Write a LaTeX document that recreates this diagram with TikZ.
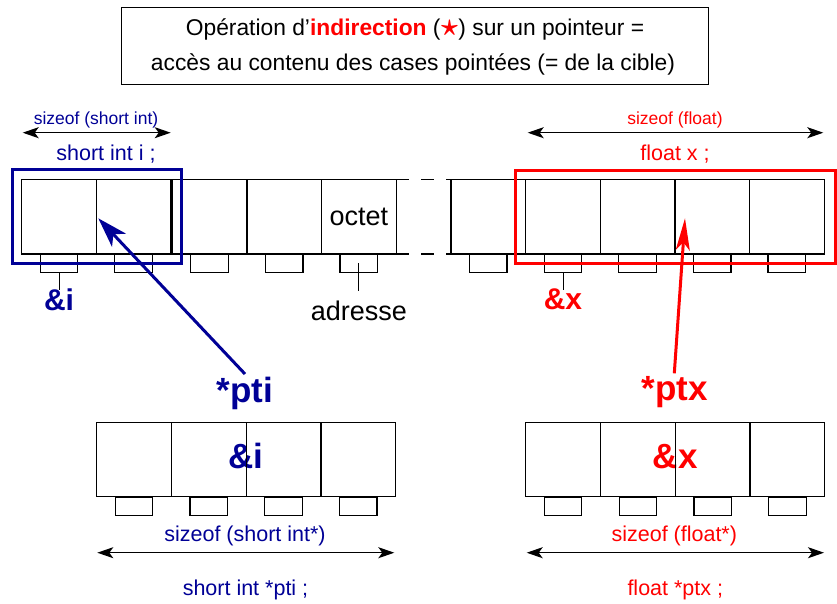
\documentclass[tikz,border=0pt]{standalone}
\usepackage{fontspec}
\setmainfont{Liberation Sans}
\usetikzlibrary{arrows.meta}
\definecolor{myblue}{RGB}{0,0,150}
\definecolor{myred}{RGB}{255,0,0}
\begin{document}
\begin{tikzpicture}[x=1pt,y=-1pt,
  cell/.style={draw, line width=1.2pt, minimum width=74.6pt, minimum height=74.7pt, inner sep=0pt, outer sep=0pt},
  pad/.style={draw, line width=1.2pt, minimum width=37.5pt, minimum height=18.5pt, inner sep=0pt, outer sep=0pt, anchor=north},
  ttl/.style={font=\fontsize{22.8}{26}\selectfont, inner sep=0pt, anchor=base},
  txt/.style={font=\fontsize{21.5}{25}\selectfont, inner sep=0pt, anchor=base},
  small/.style={font=\fontsize{17.5}{20}\selectfont, inner sep=0pt, anchor=base},
  mid/.style={font=\fontsize{27}{30}\selectfont, inner sep=0pt, anchor=base},
  bigb/.style={font=\fontsize{35}{40}\selectfont\bfseries, inner sep=0pt, anchor=base},
  medb/.style={font=\fontsize{30}{34}\selectfont\bfseries, inner sep=0pt, anchor=base},
  dimarrow/.style={{Stealth[length=16pt,width=11pt,inset=4pt]}-{Stealth[length=16pt,width=11pt,inset=4pt]}, line width=1.3pt},
  tick/.style={line width=1pt},
  hl/.style={line width=3pt, inner sep=0pt, outer sep=0pt}
]
\useasboundingbox (0,0) rectangle (837,603);

% title
\node[draw, line width=1pt, minimum width=587pt, minimum height=77pt, inner sep=0pt] (title) at (414.5,46) {};
\node[ttl] (t1) at (415,35.5) {Opération d’\textcolor{myred}{\textbf{indirection}} (\textcolor{myred}{\scalebox{1.5}{\boldmath$\star$}}) sur un pointeur =};
\node[ttl] (t2) at (413,70.5) {accès au contenu des cases pointées (= de la cible)};

% top memory row: pads first
\foreach \n/\x in {tl1/59, tl2/133.6, tl3/209.6, tl4/284.2, tl5/358.8, tr1/488.3, tr2/563, tr3/637.6, tr4/712.2, tr5/786.8} {
  \node[pad] (p\n) at (\x,254) {};
  \node[cell] (\n) at (\x,216.7) {};
}
\node[mid] (octet) at (358.8,225) {octet};

% dashed continuation
\draw[line width=1.2pt, dash pattern=on 12.5pt off 12.5pt] (tl5.north east) -- (tr1.north west);
\draw[line width=1.2pt, dash pattern=on 12.5pt off 12.5pt] (tl5.south east) -- (tr1.south west);

% labels under pads
\coordinate (ai) at (59,290);
\coordinate (ax) at (563,290);
\coordinate (ad) at (358.8,291);
\draw[tick] (ptl1.center) ++(0,9) coordinate (ai0) -- (ai);
\draw[tick] (ptl5.center) -- (ad);
\draw[tick] (ptr2.center) ++(0,9) coordinate (ax0) -- (ax);
\node[medb, text=myblue] (ampi) at (59,310) {\&i};
\node[medb, text=myred] (ampx) at (563,309.5) {\&x};
\node[mid] (adresse) at (358.8,320) {adresse};

% highlight boxes
\node[hl, draw=myblue, minimum width=169pt, minimum height=94pt] (boxi) at (96.7,216.5) {};
\node[hl, draw=myred, minimum width=319.7pt, minimum height=93.3pt] (boxx) at (675.2,216.7) {};

% top size annotations
\coordinate (sa1) at (22.7,132.7);
\coordinate (sa2) at (170.7,132.7);
\coordinate (sb1) at (527.7,132.7);
\coordinate (sb2) at (823.3,132.7);
\draw[dimarrow] (sa1) -- (sa2);
\draw[dimarrow] (sb1) -- (sb2);
\node[small, text=myblue] (szi) at (96,124) {sizeof (short int)};
\node[small, text=myred] (szf) at (675,124) {sizeof (float)};
\node[txt, text=myblue] (deci) at (106,160) {short int i ;};
\node[txt, text=myred] (decx) at (675,160) {float x ;};

% bottom pointer cells
\node[bigb, text=myblue] (vali) at (246,468.3) {\&i};
\node[bigb, text=myred] (valx) at (675.3,468.3) {\&x};
\foreach \n/\x in {bl1/134.1, bl2/208.8, bl3/283.6, bl4/358.3, br1/563.1, br2/637.9, br3/712.7, br4/787.5} {
  \node[pad] (p\n) at (\x,497) {};
  \node[cell] (\n) at (\x,459.5) {};
}

% bottom size annotations
\coordinate (sc1) at (97.3,552.7);
\coordinate (sc2) at (394.3,552.7);
\coordinate (sd1) at (526.7,552.7);
\coordinate (sd2) at (824,552.7);
\draw[dimarrow] (sc1) -- (sc2);
\draw[dimarrow] (sd1) -- (sd2);
\node[txt, text=myblue] (szpi) at (245,541.7) {sizeof (short int*)};
\node[txt, text=myred] (szpx) at (674.3,541.7) {sizeof (float*)};
\node[txt, text=myblue] (decpi) at (245.5,595) {short int *pti ;};
\node[txt, text=myred] (decpx) at (675.3,595) {float *ptx ;};

% pointer names and indirection arrows
\node[bigb, text=myblue] (pti) at (245,402) {*pti};
\node[bigb, text=myred] (ptx) at (674.5,400) {*ptx};
\coordinate (tgi) at (98.3,218.3);
\coordinate (tgx) at (685,218.3);
\coordinate (tli) at (245,374);
\coordinate (tlx) at (674.3,373.3);
\draw[myblue, line width=3pt, -{Stealth[length=30pt,width=19pt,inset=8pt]}] (tli) -- (tgi);
\draw[myred, line width=3pt, -{Stealth[length=32pt,width=14pt,inset=8pt]}] (tlx) -- (tgx);
\end{tikzpicture}
\end{document}
